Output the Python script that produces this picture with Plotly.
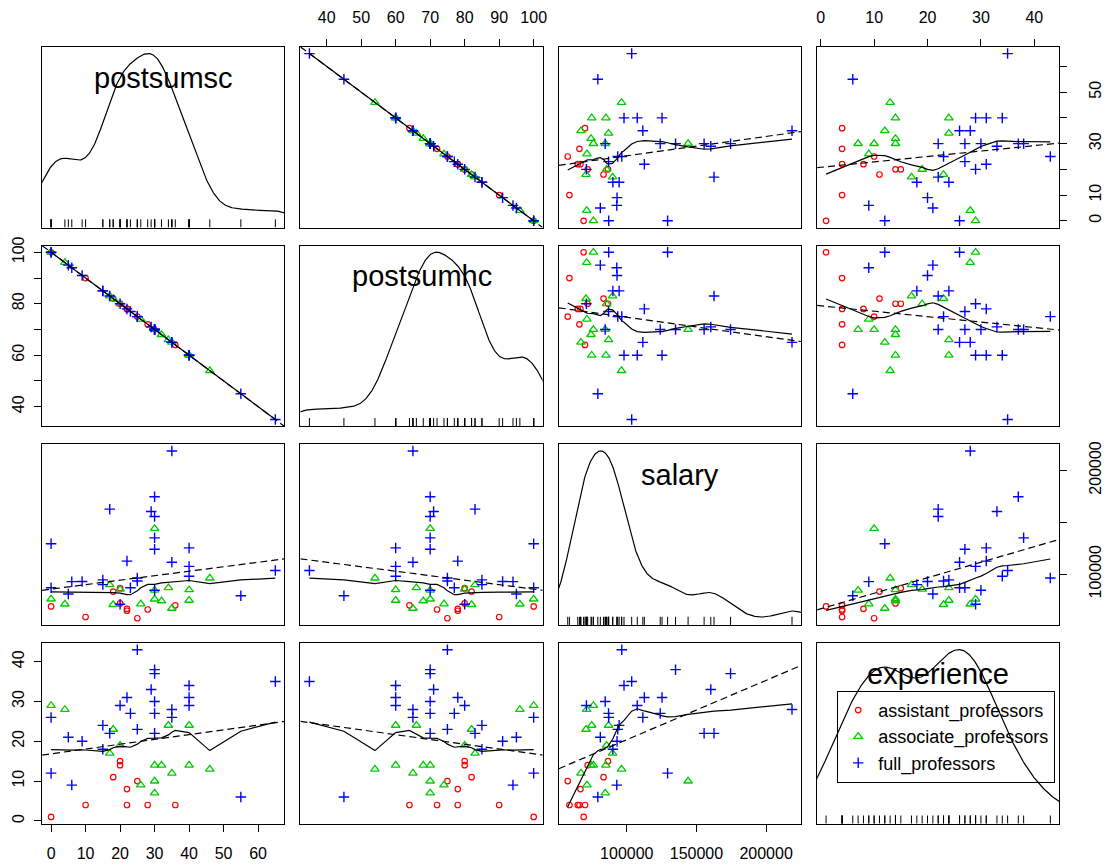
import numpy as np
import plotly.graph_objects as go

# ---------------- data ----------------
var_names = ["postsumsc", "postsumhc", "salary", "experience"]
group_names = ["assistant_professors", "associate_professors", "full_professors"]
group_colors = ["#FF0000", "#00CD00", "#0000FF"]

rank = (["assistant_professors"] * 10 + ["associate_professors"] * 15 +
        ["full_professors"] * 26)

postsumsc = [0, 10, 18, 20, 20, 22, 22, 25, 28, 36,
             0, 4, 17, 18, 20, 26, 30, 30, 30, 32, 34, 35, 40, 40, 46,
             25, 30, 30, 29, 22, 30, 20, 23, 30, 35, 35, 40, 40, 40, 65, 0, 15, 17, 25, 30,
             5, 9, 15, 0, 6, 55]
postsumhc = [100, 90, 82, 80, 80, 78, 78, 75, 72, 64,
             100, 96, 83, 82, 80, 74, 70, 70, 70, 68, 66, 65, 60, 60, 54,
             75, 70, 70, 71, 78, 70, 80, 77, 70, 65, 65, 60, 60, 60, 35, 100, 85, 83, 75, 70,
             95, 91, 85, 100, 94, 45]
salary = [69000, 58800, 83300, 71900, 86500, 64800, 66700, 57600, 66000, 70000,
          76000, 71200, 89800, 70700, 85500, 71400, 76000, 144000, 84500, 74300, 86900,
          67100, 74800, 85000, 96200,
          96400, 135000, 174500, 160300, 112600, 84500, 71000, 86900, 124000, 218600,
          111500, 98000, 125300, 107500, 103500, 87000, 94500, 162600, 93500, 155500,
          81000, 93000, 90000, 129300, 92800, 79200]
experience = [1, 4, 11, 14, 15, 4, 8, 10, 4, 4,
              29, 28, 17, 23, 19, 9, 14, 10, 7, 14, 24, 12, 24, 14, 13,
              43, 38, 37, 33, 31, 30, 29, 27, 27, 28, 26, 34, 31, 29, 35, 26, 24, 22, 23, 22,
              21, 20, 18, 12, 9, 6]

# tick values and labels (column axes label every tick, row axes skip crowded ones)
tick_vals = {
    "postsumsc": [0, 10, 20, 30, 40, 50, 60],
    "postsumhc": [40, 50, 60, 70, 80, 90, 100],
    "salary": [100000, 150000, 200000],
    "experience": [0, 10, 20, 30, 40],
}
col_tick_text = {
    "postsumsc": ["0", "10", "20", "30", "40", "50", "60"],
    "postsumhc": ["40", "50", "60", "70", "80", "90", "100"],
    "salary": ["100000", "150000", "200000"],
    "experience": ["0", "10", "20", "30", "40"],
}
row_tick_text = {
    "postsumsc": ["0", "10", "", "30", "", "50", ""],
    "postsumhc": ["40", "", "60", "", "80", "", "100"],
    "salary": ["100000", "", "200000"],
    "experience": ["0", "10", "20", "30", "40"],
}

data = {"postsumsc": np.array(postsumsc, float), "postsumhc": np.array(postsumhc, float),
        "salary": np.array(salary, float), "experience": np.array(experience, float)}
rank_arr = np.array(rank)

# ---------------- helpers (statistics as R's car::scatterplotMatrix) ----------------
def bw_nrd0(x):
    sd = np.std(x, ddof=1)
    q75, q25 = np.percentile(x, [75, 25])
    lo = min(sd, (q75 - q25) / 1.34)
    return 0.9 * lo * len(x) ** (-0.2)

def density(x):
    bw = bw_nrd0(x)
    gx = np.linspace(x.min() - 3 * bw, x.max() + 3 * bw, 512)
    d = np.exp(-0.5 * ((gx[:, None] - x[None, :]) / bw) ** 2).sum(1) / (len(x) * bw * np.sqrt(2 * np.pi))
    return gx, d

def loess_fit(x, y, span=0.5, degree=1, iterations=4):
    n = len(x)
    q = int(np.floor(n * span))
    rw = np.ones(n)
    fit = np.zeros(n)
    for it in range(iterations):
        for i in range(n):
            d = np.abs(x - x[i])
            h = np.sort(d)[q - 1]
            if h <= 0:
                h = 1e-12
            h *= 1.0000001
            u = d / h
            w = np.where(u < 1, (1 - u ** 3) ** 3, 0.0) * rw
            X = np.vander(x - x[i], degree + 1, increasing=True)
            sw = np.sqrt(w)
            beta, *_ = np.linalg.lstsq(X * sw[:, None], y * sw, rcond=None)
            fit[i] = beta[0]
        if it < iterations - 1:
            res = y - fit
            cmad = 6 * np.median(np.abs(res))
            if cmad <= 0:
                break
            r = np.abs(res) / cmad
            rw = np.where(r < 1, (1 - r ** 2) ** 2, 0.0)
    return fit

def pad_range(x):
    lo, hi = x.min(), x.max()
    e = 0.04 * (hi - lo)
    return [lo - e, hi + e]

# ---------------- layout geometry ----------------
W_PX, H_PX = 1108, 865
col_left = [41.3, 300.8, 560.3, 819.8]
panel_w = 243.3
row_top = [38.3, 239.1, 439.9, 640.7]
panel_h = 182.5

TICK_FONT = dict(family="Liberation Sans, Arial", size=16, color="black")

fig = go.Figure()
layout = dict(width=W_PX, height=H_PX, margin=dict(l=0, r=0, t=0, b=0),
              paper_bgcolor="white", plot_bgcolor="white", showlegend=True)
annotations = []

nv = len(var_names)
for r in range(nv):
    for c in range(nv):
        k = r * nv + c + 1
        xs = "" if k == 1 else str(k)
        xname, yname = "x" + xs, "y" + xs
        vx, vy = var_names[c], var_names[r]
        xr, yr = pad_range(data[vx]), pad_range(data[vy])

        xd = [col_left[c] / W_PX, (col_left[c] + panel_w) / W_PX]
        yd = [1 - (row_top[r] + panel_h) / H_PX, 1 - row_top[r] / H_PX]

        xax = dict(domain=xd, range=xr, anchor=yname, showgrid=False, zeroline=False,
                   showline=True, mirror=True, linecolor="black", linewidth=1,
                   tickfont=TICK_FONT)
        yax = dict(domain=yd, range=yr, anchor=xname, showgrid=False, zeroline=False,
                   showline=True, mirror=True, linecolor="black", linewidth=1,
                   tickfont=TICK_FONT, tickangle=-90)
        x_out = (r == 0 and c % 2 == 1) or (r == nv - 1 and c % 2 == 0)
        y_out = (c == 0 and r % 2 == 1) or (c == nv - 1 and r % 2 == 0)
        if x_out:
            xax.update(side="top" if r == 0 else "bottom", ticks="outside", ticklen=7,
                       tickwidth=1, tickcolor="black", tickmode="array",
                       tickvals=tick_vals[vx], ticktext=col_tick_text[vx],
                       showticklabels=True, ticklabelstandoff=(10 if r == 0 else 8))
        else:
            xax.update(ticks="", showticklabels=False)
        if y_out:
            yax.update(side="left" if c == 0 else "right", ticks="outside", ticklen=7,
                       tickwidth=1, tickcolor="black", tickmode="array",
                       tickvals=tick_vals[vy], ticktext=row_tick_text[vy],
                       showticklabels=True, ticklabelstandoff=(4 if c == 0 else 14))
        else:
            yax.update(ticks="", showticklabels=False)
        layout["xaxis" + xs] = xax
        layout["yaxis" + xs] = yax

        if r == c:
            x = data[vx]
            gx, d = density(x)
            ymap = x.min() + d * (x.max() - x.min()) / (d.max() - d.min())
            fig.add_trace(go.Scatter(x=gx, y=ymap, mode="lines", xaxis=xname, yaxis=yname,
                                     line=dict(color="black", width=1.2), showlegend=False,
                                     hoverinfo="skip"))
            rug_len = 0.045 * (yr[1] - yr[0])
            rx, ry = [], []
            for v in x:
                rx += [v, v, None]
                ry += [yr[0], yr[0] + rug_len, None]
            fig.add_trace(go.Scatter(x=rx, y=ry, mode="lines", xaxis=xname, yaxis=yname,
                                     line=dict(color="black", width=1), showlegend=False,
                                     hoverinfo="skip"))
            annotations.append(dict(text=vx, xref="paper", yref="paper",
                                    x=(col_left[c] + panel_w / 2) / W_PX,
                                    y=1 - (row_top[r] + 31) / H_PX,
                                    xanchor="center", yanchor="middle", showarrow=False,
                                    font=dict(family="Liberation Sans, Arial", size=29,
                                              color="black")))
            continue

        x, y = data[vx], data[vy]
        for gi, g in enumerate(group_names):
            m = rank_arr == g
            if gi == 0:
                mk = dict(symbol="circle-open", size=5.5, color=group_colors[gi],
                          line=dict(width=1.2, color=group_colors[gi]))
            elif gi == 1:
                mk = dict(symbol="triangle-up-open", size=7.5, color=group_colors[gi],
                          line=dict(width=1.3, color=group_colors[gi]))
            else:
                mk = dict(symbol="cross-thin-open", size=7.5, color=group_colors[gi],
                          line=dict(width=1.4, color=group_colors[gi]))
            fig.add_trace(go.Scatter(x=x[m], y=y[m], mode="markers", xaxis=xname, yaxis=yname,
                                     marker=mk, name=g, legendgroup=g,
                                     showlegend=(k == 2)))
        # least-squares line (dashed) across the panel
        b1, b0 = np.polyfit(x, y, 1)
        lx = np.array(xr)
        fig.add_trace(go.Scatter(x=lx, y=b0 + b1 * lx, mode="lines", xaxis=xname, yaxis=yname,
                                 line=dict(color="black", width=1.2, dash="7px,4px"),
                                 showlegend=False, hoverinfo="skip"))
        # loess smoother (solid) over the data range
        order = np.argsort(x, kind="stable")
        fit = loess_fit(x[order], y[order])
        fig.add_trace(go.Scatter(x=x[order], y=fit, mode="lines", xaxis=xname, yaxis=yname,
                                 line=dict(color="black", width=1.2),
                                 showlegend=False, hoverinfo="skip"))

layout["annotations"] = annotations
layout["legend"] = dict(x=840 / W_PX, y=1 - 689 / H_PX, xanchor="left", yanchor="top",
                        bgcolor="rgba(0,0,0,0)", bordercolor="black", borderwidth=1,
                        tracegroupgap=0,
                        font=dict(family="Liberation Sans, Arial", size=18, color="black"),
                        itemsizing="trace")
fig.update_layout(**layout)
fig.write_html("out.html")
